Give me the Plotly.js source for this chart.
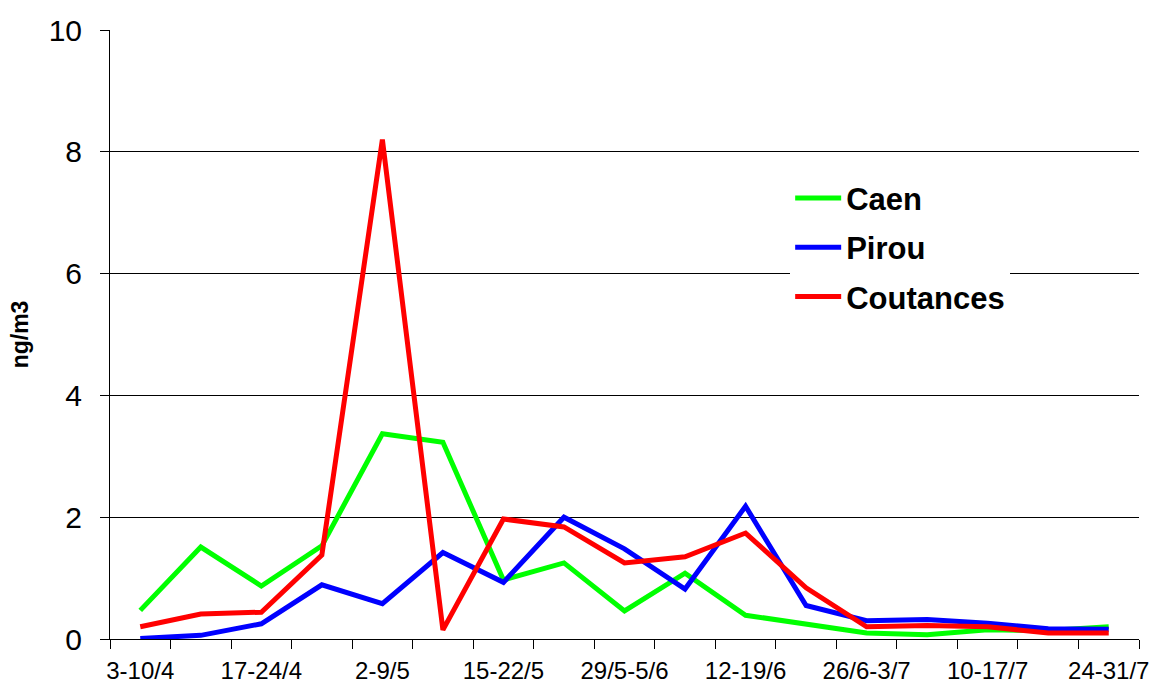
<!DOCTYPE html>
<html>
<head>
<meta charset="utf-8">
<script src="https://cdn.plot.ly/plotly-3.0.1.min.js"></script>
<style>html,body{margin:0;padding:0;background:#fff;}#chart{width:1155px;height:686px;}</style>
</head>
<body>
<div id="chart"></div>
<script>
// Weekly sampling periods (17 weeks); only every other label is printed on the axis
var weekLabels = ["3-10/4", "", "17-24/4", "", "2-9/5", "", "15-22/5", "", "29/5-5/6", "", "12-19/6", "", "26/6-3/7", "", "10-17/7", "", "24-31/7"];
var caen      = [0.47, 1.51, 0.87, 1.53, 3.37, 3.23, 0.97, 1.25, 0.46, 1.08, 0.39, 0.25, 0.10, 0.07, 0.15, 0.14, 0.20];
var pirou     = [0.01, 0.06, 0.25, 0.89, 0.58, 1.42, 0.93, 2.00, 1.48, 0.82, 2.18, 0.55, 0.30, 0.32, 0.26, 0.17, 0.16];
var coutances = [0.20, 0.41, 0.44, 1.38, 8.20, 0.15, 1.97, 1.84, 1.25, 1.35, 1.74, 0.84, 0.20, 0.22, 0.20, 0.10, 0.10];
var yTitle = "ng/m3";

var idx = weekLabels.map(function (_, i) { return i; });
var shownVals = [], shownText = [];
weekLabels.forEach(function (t, i) { if (t !== "") { shownVals.push(i); shownText.push(t); } });

var FONT = "Liberation Sans, Arial, sans-serif";
function tr(name, y, color) {
  return { type: "scatter", mode: "lines", name: name, legendgroup: name, x: idx, y: y,
           line: { color: color, width: 5 }, hoverinfo: "x+y" };
}
var data = [tr("Caen", caen, "#00ff00"), tr("Pirou", pirou, "#0000ff"), tr("Coutances", coutances, "#ff0000")];

var layout = {
  width: 1155, height: 686,
  paper_bgcolor: "#ffffff", plot_bgcolor: "#ffffff",
  margin: { l: 110, r: 16, t: 30, b: 47 },
  font: { family: FONT, color: "#000" },
  showlegend: true,
  legend: { x: 0.661, y: 0.768, xanchor: "left", yanchor: "top", bgcolor: "#ffffff", borderwidth: 0,
            itemwidth: 46, tracegroupgap: 6,
            font: { family: FONT, size: 31, weight: "bold", color: "#000" } },
  xaxis: {
    range: [-0.5, 16.5], tickmode: "array", tickvals: shownVals, ticktext: shownText,
    ticks: "", ticklabelstandoff: 10, showgrid: false, zeroline: false,
    showline: true, linecolor: "#000", linewidth: 1,
    tickfont: { family: FONT, size: 24, color: "#000" },
    minor: { tickmode: "linear", tick0: -0.5, dtick: 1, ticks: "outside", ticklen: 9, tickcolor: "#000", tickwidth: 1, showgrid: false },
    fixedrange: true
  },
  yaxis: {
    range: [0, 10], dtick: 2, ticks: "outside", ticklen: 9, tickcolor: "#000", tickwidth: 1,
    ticklabelstandoff: 12,
    showgrid: true, gridcolor: "#000", gridwidth: 1, zeroline: false,
    showline: true, linecolor: "#000", linewidth: 1,
    tickfont: { family: FONT, size: 30, color: "#000" },
    title: { text: yTitle, font: { family: FONT, size: 23, weight: "bold", color: "#000" }, standoff: 13 },
    fixedrange: true
  }
};
Plotly.newPlot("chart", data, layout, { displayModeBar: false, staticPlot: true });
</script>
</body>
</html>
